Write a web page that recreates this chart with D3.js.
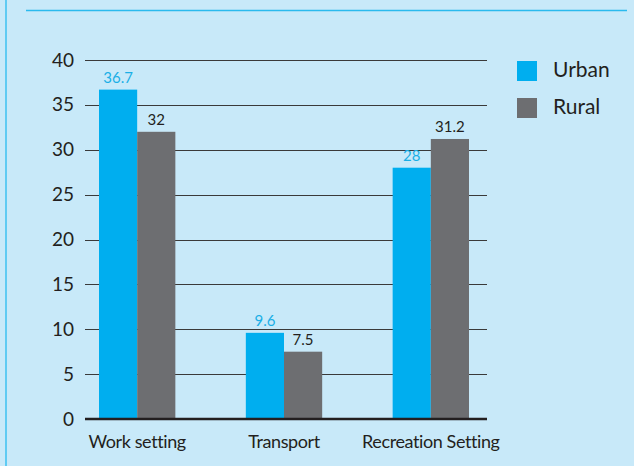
<!DOCTYPE html>
<html>
<head>
<meta charset="utf-8">
<script src="https://cdn.jsdelivr.net/npm/d3@7"></script>
<style>
  body { margin: 0; background: #c8e9f9; }
  svg { display: block; }
</style>
</head>
<body>
<div id="chart"></div>
<script>
// chart values
const categories = ["Work setting", "Transport", "Recreation Setting"];
const urbanValues = [36.7, 9.6, 28];
const ruralValues = [32, 7.5, 31.2];
const seriesNames = ["Urban", "Rural"];
const yTicks = [0, 5, 10, 15, 20, 25, 30, 35, 40];

const width = 634, height = 466;
const colors = { Urban: "#00aeef", Rural: "#6d6e71" };
const labelColors = { Urban: "#1aafe6", Rural: "#231f20" };
const font = "Lato, 'Open Sans', sans-serif";

const svg = d3.select("#chart").append("svg")
    .attr("width", width)
    .attr("height", height);

svg.append("rect")
    .attr("width", width).attr("height", height)
    .attr("fill", "#c8e9f9");

// frame lines
svg.append("line")
    .attr("x1", 6).attr("x2", 6).attr("y1", 0).attr("y2", height)
    .attr("stroke", "#3cc0f0").attr("stroke-width", 1.5);
svg.append("line")
    .attr("x1", 26).attr("x2", 627).attr("y1", 10.5).attr("y2", 10.5)
    .attr("stroke", "#2bbaee").attr("stroke-width", 1.5);

// scales
const y = d3.scaleLinear().domain([0, 40]).range([419, 60]);
const x = d3.scaleBand().domain(categories).range([99, 469])
    .paddingInner(0.48).paddingOuter(0);
const xs = d3.scaleBand().domain(seriesNames).range([0, x.bandwidth()]);

const gridLeft = 85, gridRight = 487;

// gridlines
svg.append("g")
    .selectAll("line")
    .data(yTicks.filter(d => d > 0))
    .join("line")
    .attr("x1", gridLeft).attr("x2", gridRight)
    .attr("y1", d => Math.round(y(d)) + 0.5).attr("y2", d => Math.round(y(d)) + 0.5)
    .attr("stroke", "#3a3a3a").attr("stroke-width", 1.2);

// y axis labels
const yAxis = svg.append("g")
    .attr("transform", `translate(${gridLeft},0)`)
    .call(d3.axisLeft(y).tickValues(yTicks).tickSize(0).tickPadding(11));
yAxis.select(".domain").remove();
yAxis.selectAll("text")
    .attr("font-family", font).attr("font-size", 19)
    .attr("fill", "#231f20");

// bars
const rows = categories.map((c, i) => ({ cat: c, Urban: urbanValues[i], Rural: ruralValues[i] }));

const groups = svg.append("g")
    .selectAll("g")
    .data(rows)
    .join("g")
    .attr("transform", d => `translate(${x(d.cat)},0)`);

groups.selectAll("rect")
    .data(d => seriesNames.map(s => ({ key: s, value: d[s] })))
    .join("rect")
    .attr("x", d => xs(d.key))
    .attr("y", d => y(d.value))
    .attr("width", xs.bandwidth())
    .attr("height", d => y(0) - y(d.value))
    .attr("fill", d => colors[d.key]);

groups.selectAll("text")
    .data(d => seriesNames.map(s => ({ key: s, value: d[s] })))
    .join("text")
    .attr("x", d => xs(d.key) + xs.bandwidth() / 2)
    .attr("y", d => y(d.value) - 7)
    .attr("text-anchor", "middle")
    .attr("font-family", font).attr("font-size", 15)
    .attr("fill", d => labelColors[d.key])
    .text(d => d.value);

// baseline
svg.append("line")
    .attr("x1", gridLeft).attr("x2", gridRight)
    .attr("y1", y(0)).attr("y2", y(0))
    .attr("stroke", "#231f20").attr("stroke-width", 2.5);

// x labels
svg.append("g")
    .selectAll("text")
    .data(categories)
    .join("text")
    .attr("x", d => x(d) + x.bandwidth() / 2)
    .attr("y", 448)
    .attr("text-anchor", "middle")
    .attr("font-family", font).attr("font-size", 18)
    .attr("letter-spacing", -0.4)
    .attr("fill", "#231f20")
    .text(d => d);

// legend
const legend = svg.append("g")
    .selectAll("g")
    .data(seriesNames)
    .join("g")
    .attr("transform", (d, i) => `translate(517,${61 + i * 37})`);
legend.append("rect")
    .attr("width", 20).attr("height", 20)
    .attr("fill", d => colors[d]);
legend.append("text")
    .attr("x", 36).attr("y", 16)
    .attr("font-family", font).attr("font-size", 21)
    .attr("fill", "#231f20")
    .text(d => d);
</script>
</body>
</html>
